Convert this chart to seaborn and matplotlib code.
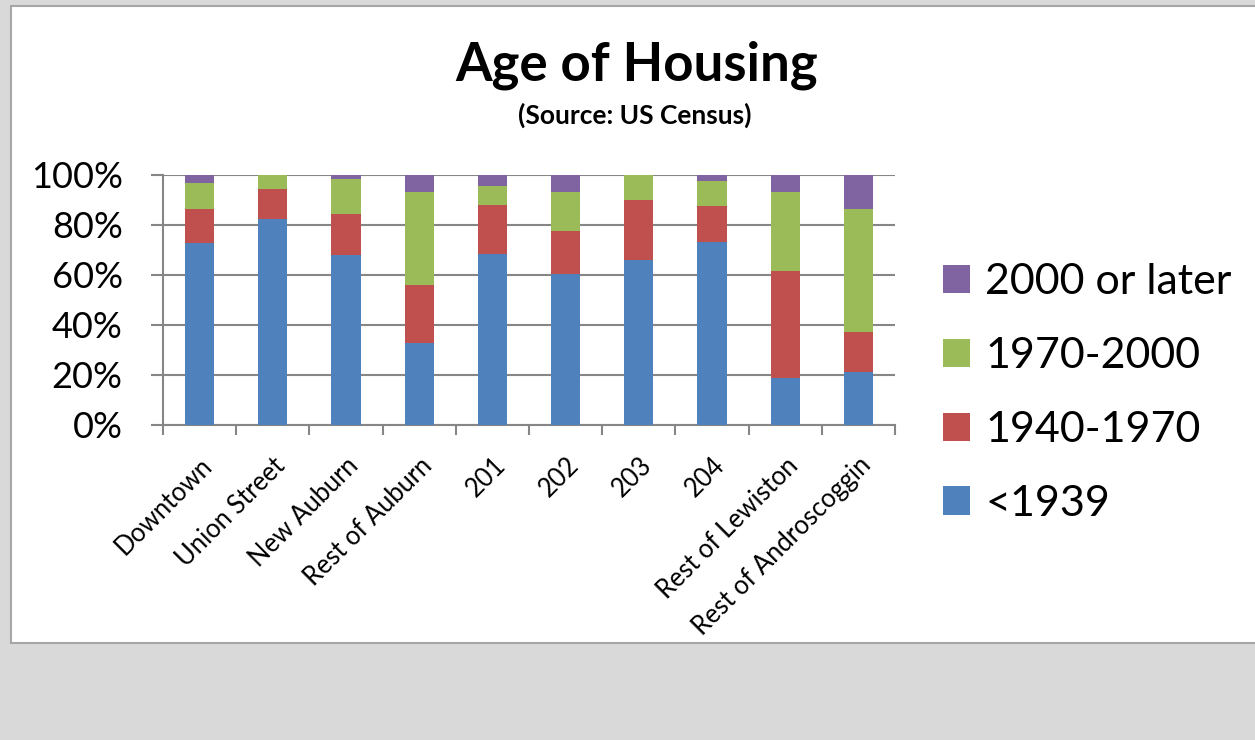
# coding: utf-8

import matplotlib
matplotlib.use('Agg')
import matplotlib.pyplot as plt
from matplotlib.patches import Rectangle, Patch
import pandas as pd
import seaborn as sns

# Data

areas = ['Downtown', 'Union Street', 'New Auburn', 'Rest of Auburn', '201',
         '202', '203', '204', 'Rest of Lewiston', 'Rest of Androscoggin']
pre_1939 = [72.7, 82.3, 68.1, 32.7, 68.5, 60.5, 66.0, 73.1, 18.7, 21.1]
y1940_1970 = [13.8, 12.2, 16.4, 23.4, 19.6, 17.2, 24.1, 14.6, 43.0, 16.1]
y1970_2000 = [10.4, 5.5, 13.9, 37.0, 7.4, 15.4, 9.9, 9.9, 31.5, 49.1]
y2000_later = [3.1, 0.0, 1.6, 6.9, 4.5, 6.9, 0.0, 2.4, 6.8, 13.7]

series = ['<1939', '1940-1970', '1970-2000', '2000 or later']
colors = ['#4F81BD', '#C0504D', '#9BBB59', '#8064A2']
y_ticks = [0, 20, 40, 60, 80, 100]

# Setup

sns.set_theme(style='white')
plt.rcParams['font.family'] = ['Lato', 'DejaVu Sans']
plt.rcParams['text.color'] = 'black'
plt.rcParams['xtick.color'] = 'black'
plt.rcParams['ytick.color'] = 'black'

df = pd.DataFrame({'area': areas, series[0]: pre_1939, series[1]: y1940_1970,
                   series[2]: y1970_2000, series[3]: y2000_later})
cum = df[series].cumsum(axis=1)
cum['area'] = df['area']

fig = plt.figure(figsize=(12.55, 7.4), dpi=100)
fig.patch.set_facecolor('#d9d9d9')
fig.add_artist(Rectangle((11 / 1255, 1 - 643 / 740), 1.1, (643 - 6) / 740,
                         transform=fig.transFigure, facecolor='white',
                         edgecolor='#a6a6a6', linewidth=1.5, zorder=0))

ax = fig.add_axes([163 / 1255, 1 - 425 / 740, 732 / 1255, 250 / 740])
ax.set_facecolor('none')

# stacked bars: draw cumulative totals from the top series down
for name, col in reversed(list(zip(series, colors))):
    sns.barplot(data=cum, x='area', y=name, color=col, width=0.4,
                saturation=1, linewidth=0, ax=ax, zorder=3)

ax.set_ylim(0, 100)
ax.set_xlim(-0.5, len(areas) - 0.5)
ax.set_yticks(y_ticks)
ax.set_yticklabels([f'{v}%' for v in y_ticks], fontsize=26)
ax.yaxis.grid(True, color='#868686', linewidth=1.5, zorder=1)
ax.set_xlabel('')
ax.set_ylabel('')

for s in ['top', 'right']:
    ax.spines[s].set_visible(False)
for s in ['left', 'bottom']:
    ax.spines[s].set_color('#868686')
    ax.spines[s].set_linewidth(1.5)

ax.tick_params(axis='y', which='major', left=True, length=9, width=1.5,
               color='#868686', labelcolor='black', pad=20)
ax.set_xticks(range(len(areas)))
ax.set_xticklabels(areas, rotation=45, ha='right', rotation_mode='anchor',
                   fontsize=18.4)
ax.tick_params(axis='x', which='major', bottom=False, pad=14,
               labelcolor='black')
ax.set_xticks([i - 0.5 for i in range(len(areas) + 1)], minor=True)
ax.tick_params(axis='x', which='minor', bottom=True, length=7, width=1.5,
               color='#868686')

fig.text(0.507, 1 - 80 / 740, 'Age of Housing', ha='center', va='baseline',
         fontsize=38, fontweight='bold', color='black')
fig.text(0.506, 1 - 124 / 740, '(Source: US Census)', ha='center',
         va='baseline', fontsize=19, fontweight='bold', color='black')

handles = [Patch(facecolor=c, edgecolor='none') for c in colors]
fig.legend(handles[::-1], series[::-1], loc='center left',
           bbox_to_anchor=(943 / 1255, 1 - 393 / 740), frameon=False,
           fontsize=31, handlelength=0.63, handleheight=0.63,
           handletextpad=0.35, labelspacing=0.83, borderpad=0,
           borderaxespad=0)

plt.savefig('out.png', dpi=100, facecolor=fig.get_facecolor())
plt.close()
